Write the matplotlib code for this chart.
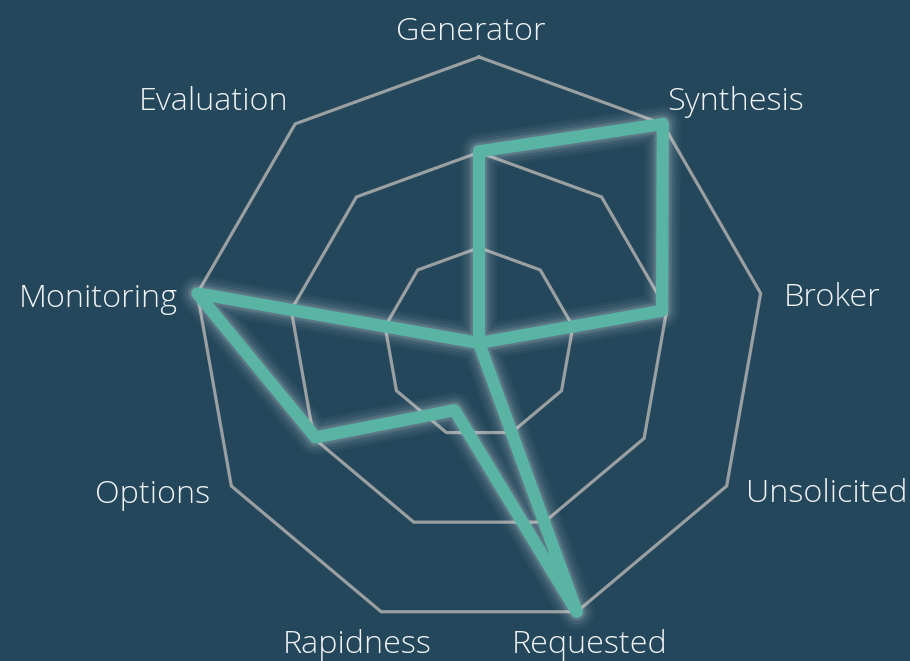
import numpy as np
import matplotlib
matplotlib.use("Agg")
import matplotlib.pyplot as plt

categories = ["Generator", "Synthesis", "Broker", "Unsolicited", "Requested",
              "Rapidness", "Options", "Monitoring", "Evaluation"]
values = [67, 100, 65, 0, 100, 25, 66, 100, 0]
max_value = 100
ring_levels = [1/3, 2/3, 1.0]

BG = "#24475b"
LINE = "#5ab4a4"
GRID = "#9a9fa2"
TEXT = "#eef2f4"

W, H = 910, 661
cx, cy, R = 479, 343, 286

fig = plt.figure(figsize=(W/100, H/100), dpi=100, facecolor=BG)
ax = fig.add_axes([0, 0, 1, 1])
ax.set_facecolor(BG)
ax.set_xlim(-cx / R, (W - cx) / R)
ax.set_ylim(-(H - cy) / R, cy / R)
ax.set_aspect("auto")
ax.axis("off")

n = len(categories)
angles = np.deg2rad(90 - 360 / n * np.arange(n))

for lvl in ring_levels:
    xs = np.append(lvl * np.cos(angles), lvl * np.cos(angles[0]))
    ys = np.append(lvl * np.sin(angles), lvl * np.sin(angles[0]))
    ax.plot(xs, ys, color=GRID, lw=2.3, solid_joinstyle="miter", zorder=1)

r = np.array(values) / max_value
px = np.append(r * np.cos(angles), r[0] * np.cos(angles[0]))
py = np.append(r * np.sin(angles), r[0] * np.sin(angles[0]))

for w, a in [(26, 0.04), (22, 0.05), (18, 0.07), (14, 0.10), (11.5, 0.12)]:
    ax.plot(px, py, color="#d8e4e8", lw=w, alpha=a, solid_joinstyle="round",
            solid_capstyle="round", zorder=2)
ax.plot(px, py, color=LINE, lw=8.8, solid_joinstyle="round",
        solid_capstyle="round", zorder=3)

# offsets in pixels: (dx, baseline dy upward)
label_specs = {
    "Generator": (-8, 17.5, "center"),
    "Synthesis": (4, 14, "left"),
    "Broker": (23, -13, "left"),
    "Unsolicited": (19, -16, "left"),
    "Requested": (13, -41, "center"),
    "Rapidness": (-24, -41, "center"),
    "Options": (-21, -17, "right"),
    "Monitoring": (-19, -14, "right"),
    "Evaluation": (-7, 14, "right"),
}
for cat, ang in zip(categories, angles):
    dx, dy, ha = label_specs[cat]
    ax.annotate(cat, (np.cos(ang), np.sin(ang)), xytext=(dx * 0.72, dy * 0.72),
                textcoords="offset points", ha=ha, va="baseline",
                color=TEXT, fontsize=23.3, family=["Open Sans", "DejaVu Sans"],
                fontweight="light", zorder=4)

fig.savefig("out.png", dpi=100, facecolor=BG)
